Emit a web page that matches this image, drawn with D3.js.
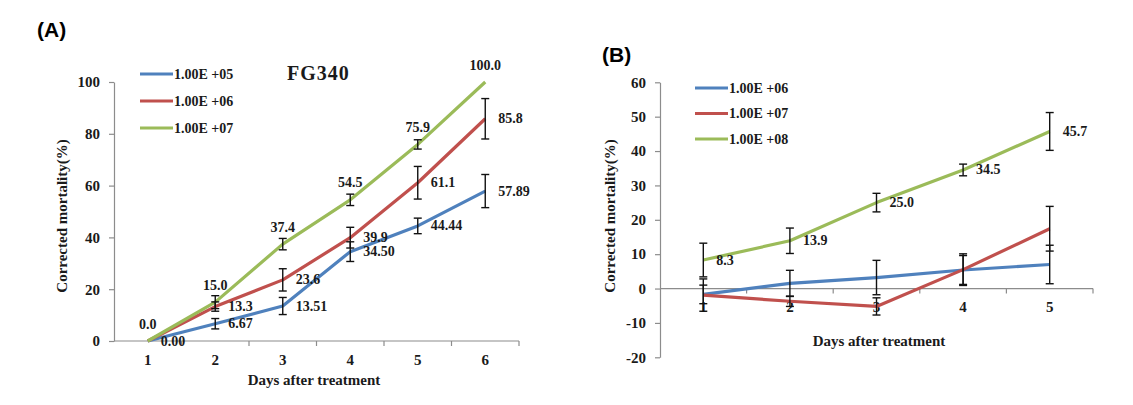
<!DOCTYPE html>
<html><head><meta charset="utf-8">
<script src="https://cdn.jsdelivr.net/npm/d3@7/dist/d3.min.js"></script>
<style>
body{margin:0;background:#fff;}
svg{display:block;}
text{font-family:"Liberation Serif","Times New Roman",serif;fill:#1a1a1a;}
text.panel{font-family:"Liberation Sans",Arial,sans-serif;fill:#000;}
</style></head>
<body>
<svg id="chart" width="1133" height="405"></svg>
<script>
// ---------- Panel A data (FG340) ----------
const daysA = ["1","2","3","4","5","6"];
const seriesNamesA = ["1.00E +05","1.00E +06","1.00E +07"];
const blueA  = [0.00, 6.67, 13.51, 34.50, 44.44, 57.89];
const redA   = [0.0, 13.3, 23.6, 39.9, 61.1, 85.8];
const greenA = [0.0, 15.0, 37.4, 54.5, 75.9, 100.0];
const blueErrA  = [0, 2.0, 3.3, 3.8, 3.0, 6.4];
const redErrA   = [0, 1.8, 4.3, 4.0, 6.3, 7.8];
const greenErrA = [0, 2.5, 2.2, 2.2, 1.8, 0];
const blueLabA  = ["0.00","6.67","13.51","34.50","44.44","57.89"];
const redLabA   = ["","13.3","23.6","39.9","61.1","85.8"];
const greenLabA = ["0.0","15.0","37.4","54.5","75.9","100.0"];
const yTicksA = [0,20,40,60,80,100];

// ---------- Panel B data ----------
const daysB = ["1","2","3","4","5"];
const seriesNamesB = ["1.00E +06","1.00E +07","1.00E +08"];
const blueB  = [-1.7, 1.5, 3.2, 5.4, 7.0];
const redB   = [-1.9, -3.7, -5.2, 5.5, 17.4];
const greenB = [8.3, 13.9, 25.0, 34.5, 45.7];
const blueErrB  = [2.7, 3.8, 5.0, 4.2, 5.6];
const redErrB   = [4.7, 1.5, 2.5, 4.6, 6.5];
const greenErrB = [4.9, 3.7, 2.7, 1.7, 5.5];
const greenLabB = ["8.3","13.9","25.0","34.5","45.7"];
const yTicksB = [-20,-10,0,10,20,30,40,50,60];

const colors = ["#4F81BD","#C0504D","#9BBB59"];
const axisColor = "#8c8c8c";

const svg = d3.select("#chart");

function drawPanel(cfg){
  const g = svg.append("g");
  const x = d3.scaleBand().domain(cfg.days).range(cfg.xRange).paddingInner(0).paddingOuter(0);
  const y = d3.scaleLinear().domain(cfg.yDomain).range(cfg.yRange);
  const cx = d => x(d) + x.bandwidth()/2;

  // y axis
  const yAx = g.append("g").attr("transform",`translate(${cfg.xRange[0]},0)`)
    .call(d3.axisLeft(y).tickValues(cfg.yTicks).tickFormat(d=>String(d))
      .tickSize(5).tickPadding(9).tickSizeOuter(0));
  yAx.select(".domain").attr("stroke",axisColor).attr("stroke-width",1.2);
  yAx.selectAll(".tick line").attr("stroke",axisColor).attr("stroke-width",1.2);
  yAx.selectAll(".tick text").attr("font-size",15).attr("font-weight","bold").attr("fill","#1a1a1a");

  // x axis line at y=0
  const y0 = y(0);
  const xAx = g.append("g").attr("transform",`translate(0,${y0})`);
  xAx.append("line").attr("x1",cfg.xRange[0]).attr("x2",cfg.xRange[1])
    .attr("stroke",axisColor).attr("stroke-width",1.2);
  xAx.selectAll("line.bt").data(cfg.days).enter().append("line").attr("class","bt")
    .attr("x1",d=>x(d)+x.bandwidth()).attr("x2",d=>x(d)+x.bandwidth())
    .attr("y1",0).attr("y2",5).attr("stroke",axisColor).attr("stroke-width",1.2);
  xAx.selectAll("text").data(cfg.days).enter().append("text")
    .attr("x",d=>cx(d)).attr("y",cfg.xLabelDy).attr("text-anchor","middle")
    .attr("dominant-baseline","central").attr("font-size",15).attr("font-weight","bold").text(d=>d);

  // titles
  g.append("text").attr("x",cfg.xTitle[0]).attr("y",cfg.xTitle[1]).attr("text-anchor","middle")
    .attr("dominant-baseline","central").attr("font-size",15).attr("font-weight","bold")
    .text("Days after treatment");
  g.append("text").attr("transform",`translate(${cfg.yTitle[0]},${cfg.yTitle[1]}) rotate(-90)`)
    .attr("text-anchor","middle").attr("dominant-baseline","central").attr("font-size",15)
    .attr("font-weight","bold").text("Corrected mortality(%)");

  // series
  const line = d3.line().x((d,i)=>cx(cfg.days[i])).y(d=>y(d));
  cfg.series.forEach((s,k)=>{
    g.append("path").datum(s.values).attr("d",line).attr("fill","none")
      .attr("stroke",colors[k]).attr("stroke-width",3.2).attr("stroke-linejoin","round");
  });
  // error bars
  cfg.series.forEach((s,k)=>{
    s.values.forEach((v,i)=>{
      const e = s.errs[i];
      if(!e) return;
      const xx = cx(cfg.days[i]);
      const eg = g.append("g").attr("stroke","#111").attr("stroke-width",1.4);
      eg.append("line").attr("x1",xx).attr("x2",xx).attr("y1",y(v-e)).attr("y2",y(v+e));
      eg.append("line").attr("x1",xx-4).attr("x2",xx+4).attr("y1",y(v-e)).attr("y2",y(v-e));
      eg.append("line").attr("x1",xx-4).attr("x2",xx+4).attr("y1",y(v+e)).attr("y2",y(v+e));
    });
  });
  // data labels
  cfg.series.forEach((s,k)=>{
    if(!s.labels) return;
    s.values.forEach((v,i)=>{
      const t = s.labels[i];
      if(!t) return;
      const xx = cx(cfg.days[i]);
      const above = s.labelPos === "above";
      g.append("text").attr("x", above ? xx : xx+13).attr("y", above ? y(v)-17 : y(v))
        .attr("text-anchor", above ? "middle" : "start").attr("dominant-baseline","central")
        .attr("font-size",14).attr("font-weight","bold").text(t);
    });
  });

  // legend
  cfg.names.forEach((n,k)=>{
    const ly = cfg.legend[1] + k*cfg.legend[2];
    g.append("line").attr("x1",cfg.legend[0]).attr("x2",cfg.legend[0]+33)
      .attr("y1",ly).attr("y2",ly).attr("stroke",colors[k]).attr("stroke-width",3.2);
    g.append("text").attr("x",cfg.legend[0]+34).attr("y",ly).attr("dominant-baseline","central")
      .attr("font-size",14).attr("font-weight","bold").text(n);
  });
  return {x,y};
}

drawPanel({
  days: daysA, xRange:[114,519], yDomain:[0,100], yRange:[341,82], yTicks:yTicksA,
  xLabelDy:19, xTitle:[314,380], yTitle:[62,216],
  names: seriesNamesA, legend:[140,74,27],
  series:[
    {values:blueA, errs:blueErrA, labels:blueLabA, labelPos:"right"},
    {values:redA, errs:redErrA, labels:redLabA, labelPos:"right"},
    {values:greenA, errs:greenErrA, labels:greenLabA, labelPos:"above"}
  ]
});

drawPanel({
  days: daysB, xRange:[660,1093], yDomain:[-20,60], yRange:[357.3,82.3], yTicks:yTicksB,
  xLabelDy:18, xTitle:[879,341], yTitle:[610,216],
  names: seriesNamesB, legend:[695,88,25.5],
  series:[
    {values:blueB, errs:blueErrB},
    {values:redB, errs:redErrB},
    {values:greenB, errs:greenErrB, labels:greenLabB, labelPos:"right"}
  ]
});

// panel letters and title
svg.append("text").attr("class","panel").attr("x",37).attr("y",37)
  .attr("font-size",21).attr("font-weight","bold").text("(A)");
svg.append("text").attr("class","panel").attr("x",602).attr("y",62)
  .attr("font-size",21).attr("font-weight","bold").text("(B)");
svg.append("text").attr("x",287).attr("y",80).attr("font-size",20).attr("font-weight","bold")
  .attr("letter-spacing",1).text("FG340");
</script>
</body></html>
